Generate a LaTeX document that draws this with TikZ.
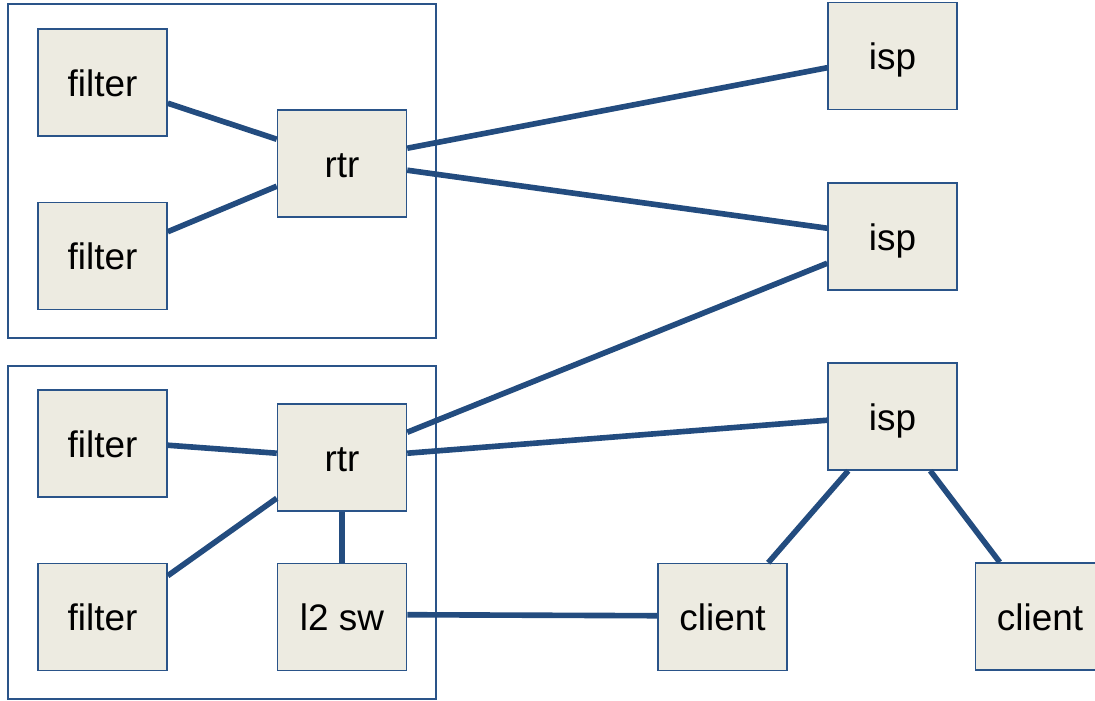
\documentclass[tikz,border=0pt]{standalone}
\usepackage{fontspec}
\setmainfont{Liberation Sans}
\usetikzlibrary{calc}
\definecolor{linkblue}{HTML}{234C7F}
\definecolor{edgeblue}{HTML}{2A5489}
\definecolor{boxfill}{HTML}{EDEBE1}
\tikzset{
  dev/.style={draw=edgeblue, line width=0.9pt, fill=boxfill, minimum width=2.58cm, minimum height=2.14cm, inner sep=0pt, text height=15.9pt, text depth=0pt, font=\fontsize{21}{25}\selectfont},
  grp/.style={draw=edgeblue, line width=0.9pt},
  link/.style={draw=linkblue, line width=3.2pt}
}
\begin{document}
\begin{tikzpicture}[x=0.02cm, y=-0.02cm]
\useasboundingbox (0,0) rectangle (1095,700);
\clip (0,0) rectangle (1095,700);
% groups
\node[grp, minimum width=8.56cm, minimum height=6.68cm, inner sep=0pt] (g1) at (222,171) {};
\node[grp, minimum width=8.56cm, minimum height=6.66cm, inner sep=0pt] (g2) at (222,532.5) {};
% devices
\node[dev] (f1) at (102.5,82.5) {filter};
\node[dev] (f2) at (102.5,256) {filter};
\node[dev] (r1) at (342,163.5) {rtr};
\node[dev] (f3) at (102.5,443.5) {filter};
\node[dev] (f4) at (102.5,617) {filter};
\node[dev] (r2) at (342,457.5) {rtr};
\node[dev] (sw) at (342,617) {l2 sw};
\node[dev] (i1) at (892.5,56) {isp};
\node[dev] (i2) at (892.5,236.5) {isp};
\node[dev] (i3) at (892.5,416.5) {isp};
\node[dev] (c1) at (722.5,617) {client};
\node[dev] (c2) at (1040,616.5) {client};
% links
\draw[link] ($(f1.north east)+(0,75)$) -- ($(r1.north west)+(0,30)$);
\draw[link] ($(f2.north east)+(0,30)$) -- ($(r1.north west)+(0,77)$);
\draw[link] ($(r1.north east)+(0,39)$) -- ($(i1.north west)+(0,66)$);
\draw[link] ($(r1.north east)+(0,61)$) -- ($(i2.north west)+(0,46)$);
\draw[link] ($(r2.north east)+(0,29)$) -- ($(i2.north west)+(0,81)$);
\draw[link] ($(r2.north east)+(0,50)$) -- ($(i3.north west)+(0,58)$);
\draw[link] ($(f3.north east)+(0,56)$) -- ($(r2.north west)+(0,50)$);
\draw[link] ($(f4.north east)+(0,13)$) -- ($(r2.north west)+(0,95)$);
\draw[link] (r2.south) -- (sw.north);
\draw[link] ($(sw.north east)+(0,52)$) -- ($(c1.north west)+(0,53)$);
\draw[link] ($(i3.south west)+(21,0)$) -- ($(c1.north west)+(111,0)$);
\draw[link] ($(i3.south west)+(103,0)$) -- ($(c2.north west)+(25,0)$);
\end{tikzpicture}
\end{document}
